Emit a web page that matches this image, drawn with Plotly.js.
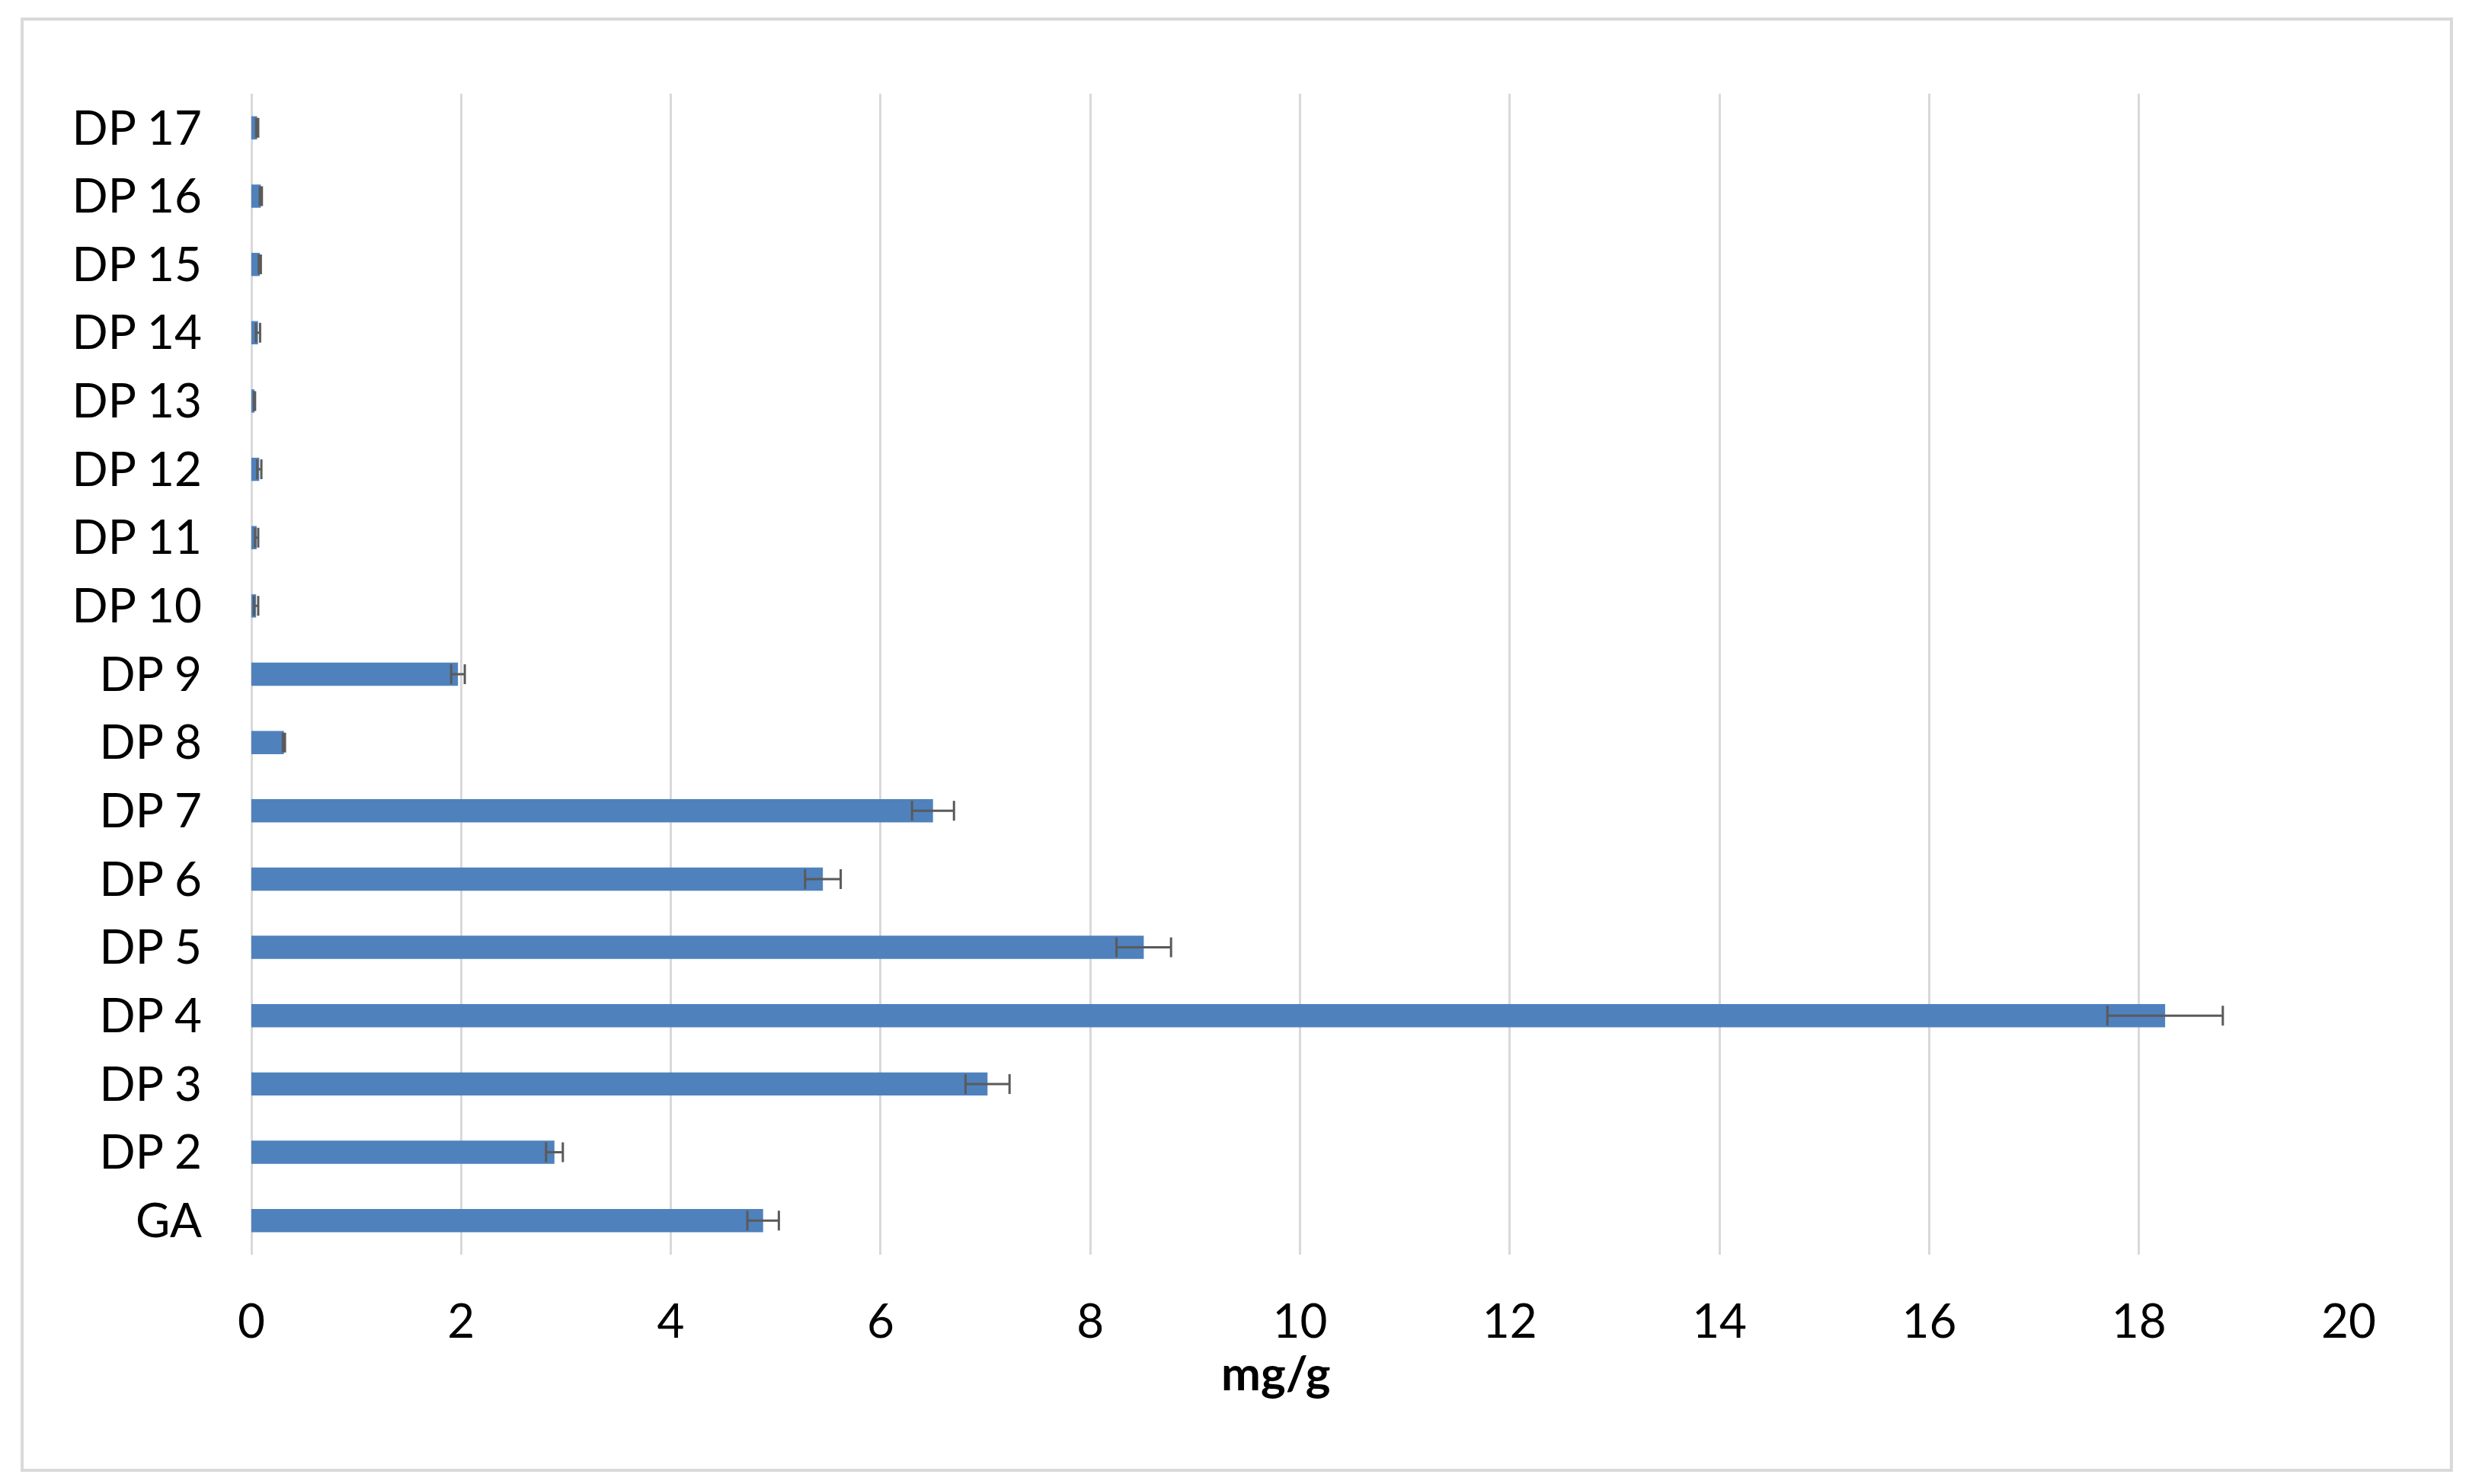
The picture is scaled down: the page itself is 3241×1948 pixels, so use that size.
<!DOCTYPE html>
<html>
<head>
<meta charset="utf-8">
<script src="https://cdn.plot.ly/plotly-3.0.1.min.js"></script>
<style>
html,body{margin:0;padding:0;background:#fff;}
#chart{width:3241px;height:1948px;}
</style>
</head>
<body>
<div id="chart"></div>
<script>
const categories = ["GA","DP 2","DP 3","DP 4","DP 5","DP 6","DP 7","DP 8","DP 9","DP 10","DP 11","DP 12","DP 13","DP 14","DP 15","DP 16","DP 17"];
const values =     [4.88, 2.89, 7.02, 18.25, 8.51, 5.45, 6.50, 0.31, 1.97, 0.045, 0.05, 0.075, 0.03, 0.063, 0.08, 0.09, 0.055];
const errors =     [0.15, 0.08, 0.21, 0.55, 0.26, 0.17, 0.20, 0.01, 0.065, 0.02, 0.015, 0.02, 0.005, 0.02, 0.01, 0.01, 0.01];
const xTicks = [0,2,4,6,8,10,12,14,16,18,20];
const xTitle = "mg/g";

const FONT = "Lato, 'Open Sans', sans-serif";

const trace = {
  type: "bar",
  orientation: "h",
  y: categories,
  x: values,
  width: 0.34,
  marker: {color: "#4F81BD", line: {width: 0}},
  error_x: {type: "data", array: errors, visible: true, color: "#5A5A5A", thickness: 3, width: 13},
  hoverinfo: "x+y"
};

const layout = {
  width: 3241, height: 1948,
  paper_bgcolor: "#ffffff", plot_bgcolor: "#ffffff",
  margin: {l: 330, r: 158, t: 123, b: 301, pad: 0},
  showlegend: false,
  bargap: 0.66,
  font: {family: FONT, color: "#000000", size: 62},
  xaxis: {
    range: [0, 20],
    tickmode: "array", tickvals: xTicks, ticktext: xTicks.map(String),
    showgrid: true, gridcolor: "#D9D9D9", gridwidth: 3,
    zeroline: true, zerolinecolor: "#D9D9D9", zerolinewidth: 3,
    showline: false, ticks: "",
    ticklabelstandoff: 46,
    tickfont: {family: FONT, size: 62, color: "#000000"}
  },
  yaxis: {
    type: "category", categoryorder: "array", categoryarray: categories,
    showgrid: false, zeroline: false, showline: false, ticks: "",
    ticklabelstandoff: 64,
    tickfont: {family: FONT, size: 62, color: "#000000"}
  },
  annotations: [{
    text: "<b>" + xTitle + "</b>",
    xref: "paper", yref: "paper",
    x: 0.4886, y: -0.101, xanchor: "center", yanchor: "middle",
    showarrow: false,
    font: {family: FONT, size: 62, color: "#000000"}
  }],
  shapes: [{
    type: "rect", xref: "paper", yref: "paper",
    x0: -0.1093, x1: 1.049, y0: -0.1857, y1: 1.0643,
    line: {color: "#D9D9D9", width: 4}, fillcolor: "rgba(0,0,0,0)", layer: "below"
  }]
};

Plotly.newPlot("chart", [trace], layout, {displayModeBar: false, staticPlot: true});
</script>
</body>
</html>
